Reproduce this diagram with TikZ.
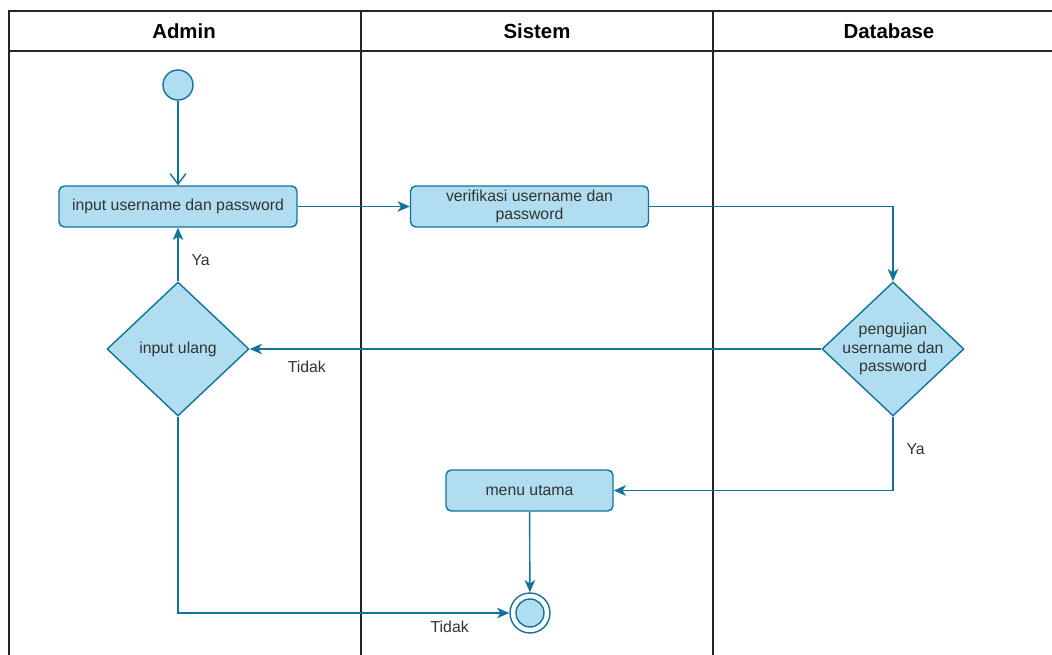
\documentclass[tikz,border=0pt]{standalone}
\usepackage{fontspec}
\setmainfont{Liberation Sans}
\usetikzlibrary{arrows.meta, positioning, shapes.geometric}
\definecolor{actFill}{HTML}{B1DDF0}
\definecolor{actLine}{HTML}{10739E}
\definecolor{txtGray}{HTML}{333333}

\begin{document}
\begin{tikzpicture} [
     x=0.02cm, y=-0.02cm,
     font=\fontsize{9}{11}\selectfont, text=txtGray,
   act/.style = {draw=actLine, fill=actFill, line width=0.8pt, rounded corners=3pt,
                 minimum width=4.76cm, minimum height=0.82cm, align=center, inner sep=1pt},
   dec/.style = {draw=actLine, fill=actFill, line width=0.8pt, diamond,
                 minimum width=2.84cm, minimum height=2.68cm, inner sep=0pt},
  lane/.style = {draw=black!85, line width=1pt},
  head/.style = {text=black, font=\fontsize{11.6}{14}\selectfont\bfseries},
  flow/.style = {draw=actLine, line width=0.8pt, -{Stealth[length=7pt,width=6pt,inset=2pt]}},
    every edge/.style={flow}
]
  \useasboundingbox (0,0) rectangle (1052,655);

  % Swimlanes
  \draw[lane] (1052,11) -- (9,11) -- (9,655);
  \draw[lane] (9,51) -- (1052,51);
  \draw[lane] (361,11) -- (361,655);
  \draw[lane] (713,11) -- (713,655);
  \node[head] (admin)    at (184,31) {Admin};
  \node[head] (sistem)   at (537,31) {Sistem};
  \node[head] (database) at (889,31) {Database};

  % Nodes and Positions
  % ADMIN
  \node[draw=actLine, fill=actFill, line width=0.8pt, circle, minimum size=0.6cm] (start) at (178,85) {};
  \node[act] (input) at (178,206.5) {input username dan password};
  \node[dec, label={[align=center]center:input ulang}] (ulang) at (178,349) {};

  % SISTEM
  \node[act] (verif) at (529.5,206.5) {verifikasi username dan\\[-1pt]password};
  \node[act, minimum width=3.34cm] (menu) at (529.5,490.5) {menu utama};
  \node[draw=actLine, line width=0.8pt, circle, minimum size=0.8cm] (finish) at (530,613) {};
  \node[draw=actLine, fill=actFill, line width=0.8pt, circle, minimum size=0.56cm] at (finish) {};

  % DATABASE
  \node[dec, label={[align=center, font=\fontsize{9}{10.5}\selectfont]center:pengujian\\username dan\\password}] (uji) at (893,349) {};

  % Edges
  \draw[draw=actLine, line width=0.8pt, -{Straight Barb[length=6pt,width=9pt]}] (start) -- (input);
  \path (input) edge (verif);
  \draw[flow] (verif) -| (uji);
  \path (uji) edge node[below=3pt, pos=0.9] {Tidak} (ulang);
  \path (ulang) edge node[right=4pt, pos=0.4] {Ya} (input);
  \draw[flow] (uji) |- node[pos=0.22, right=4pt] {Ya} (menu);
  \path (menu) edge (finish);
  \draw[flow] (ulang) |- node[pos=0.91, below=1pt] {Tidak} (finish);

\end{tikzpicture}
\end{document}
